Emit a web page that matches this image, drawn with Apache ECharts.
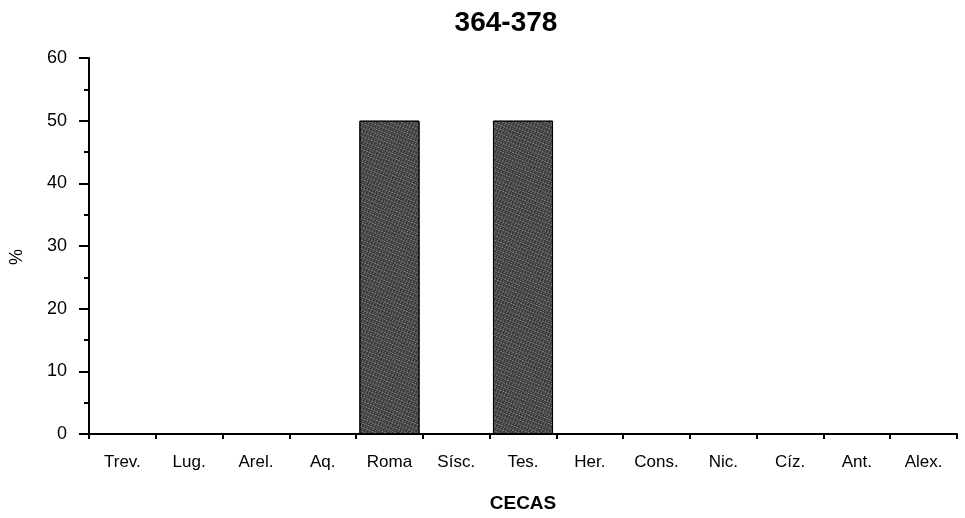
<!DOCTYPE html>
<html>
<head>
<meta charset="utf-8">
<script src="https://cdn.jsdelivr.net/npm/echarts@6/dist/echarts.min.js"></script>
<style>
  html, body { margin: 0; padding: 0; background: #fff; }
  #chart { width: 965px; height: 518px; }
</style>
</head>
<body>
<div id="chart"></div>
<script>
const chartTitle = '364-378'
const categories = ['Trev.', 'Lug.', 'Arel.', 'Aq.', 'Roma', 'Sísc.', 'Tes.', 'Her.', 'Cons.', 'Nic.', 'Cíz.', 'Ant.', 'Alex.']
const percentValues = [0, 0, 0, 0, 50, 0, 50, 0, 0, 0, 0, 0, 0]
const yTicks = [0, 10, 20, 30, 40, 50, 60]

const font = 'Liberation Sans, Arial, Helvetica, sans-serif'
const chart = echarts.init(document.getElementById('chart'))

chart.setOption({
  animation: false,
  title: {
    text: chartTitle,
    left: 501,
    textAlign: 'center',
    top: 4,
    textStyle: { fontFamily: font, fontSize: 28, fontWeight: 'bold', color: '#000' }
  },
  grid: { left: 89, right: 8, top: 58, bottom: 82 },
  xAxis: {
    type: 'category',
    data: categories,
    name: 'CECAS',
    nameLocation: 'middle',
    nameGap: 60,
    nameTextStyle: { fontFamily: font, fontSize: 19, fontWeight: 'bold', color: '#000' },
    axisLine: { lineStyle: { color: '#000', width: 2 } },
    axisTick: { show: true, length: 5, lineStyle: { color: '#000', width: 2 } },
    axisLabel: { fontFamily: font, fontSize: 17, color: '#000', margin: 20, interval: 0 },
    splitLine: { show: false }
  },
  yAxis: {
    type: 'value',
    min: yTicks[0],
    max: yTicks[yTicks.length - 1],
    interval: 10,
    name: '%',
    nameLocation: 'middle',
    nameRotate: 90,
    nameGap: 63,
    nameTextStyle: { fontFamily: font, fontSize: 18, color: '#000', padding: [0, 22, 0, 0] },
    axisLine: { show: true, lineStyle: { color: '#000', width: 2 } },
    axisTick: { show: true, length: 10, lineStyle: { color: '#000', width: 2 } },
    minorTick: { show: true, splitNumber: 2, length: 5, lineStyle: { color: '#000', width: 2 } },
    axisLabel: { fontFamily: font, fontSize: 18, color: '#000', margin: 22 },
    splitLine: { show: false }
  },
  series: [
    {
      type: 'bar',
      data: percentValues,
      barCategoryGap: '10%',
      itemStyle: {
        color: '#3a3a3a',
        borderColor: '#000',
        borderWidth: 1,
        // stippled look of the printed bars
        decal: {
          symbol: 'rect',
          symbolSize: 1,
          color: 'rgba(200,200,200,0.55)',
          dashArrayX: [[1, 2], [2, 1]],
          dashArrayY: [1, 1],
          rotation: 0.4
        }
      }
    }
  ]
})
</script>
</body>
</html>
